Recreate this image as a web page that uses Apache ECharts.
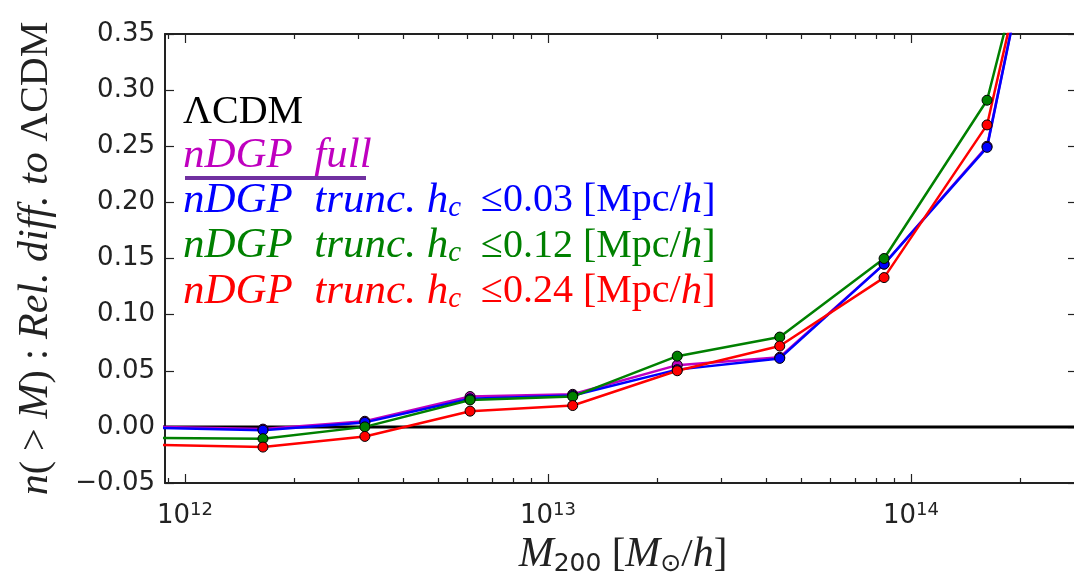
<!DOCTYPE html>
<html>
<head>
<meta charset="utf-8">
<script src="https://cdn.jsdelivr.net/npm/echarts@6/dist/echarts.min.js"></script>
<style>
html, body { margin: 0; padding: 0; background: #fff; }
#main { width: 1074px; height: 577px; }
</style>
</head>
<body>
<div id="main"></div>
<script>
// 质量 M200 [Msun/h]
var masses = [8.5e11, 1.64e12, 3.13e12, 6.1e12, 1.17e13, 2.27e13, 4.35e13, 8.43e13, 1.62e14, 3.1e14];
// 相对差 n(>M)
var lcdm = [0, 0, 0, 0, 0, 0, 0, 0, 0, 0];
var nDGPFull = [0.000, -0.002, 0.005, 0.027, 0.029, 0.055, 0.062, 0.145, 0.250, 0.69];
var nDGP003 = [-0.001, -0.003, 0.004, 0.025, 0.028, 0.051, 0.061, 0.145, 0.249, 0.69];
var nDGP012 = [-0.010, -0.0105, 0.000, 0.024, 0.027, 0.063, 0.080, 0.150, 0.291, 0.65];
var nDGP024 = [-0.016, -0.018, -0.0085, 0.014, 0.019, 0.050, 0.072, 0.133, 0.269, 0.67];
// 坐标轴
var xMin = 8.81e11, xMax = 2.94e14;
var xMajor = [1e12, 1e13, 1e14];

var serif = 'Liberation Serif';
var sans = 'DejaVu Sans';

// 次刻度 2..9 x 10^n
var xMinor = [];
for (var e = 11; e <= 14; e++) {
    for (var k = 2; k <= 9; k++) {
        var v = k * Math.pow(10, e);
        if (v > xMin && v < xMax) xMinor.push(v);
    }
}

// 图例文字 (颜色前缀)
var colors = { k: '#000000', m: '#bf00bf', b: '#0000ff', g: '#008000', r: '#ff0000' };
var rich = {};
Object.keys(colors).forEach(function (p) {
    rich[p + 'i'] = { fontFamily: serif, fontStyle: 'italic', fontSize: 43, lineHeight: 44, color: colors[p] };
    rich[p + 'u'] = { fontFamily: serif, fontSize: 40, lineHeight: 44, color: colors[p] };
    rich[p + 's'] = { fontFamily: serif, fontStyle: 'italic', fontSize: 29, lineHeight: 20, verticalAlign: 'bottom', color: colors[p] };
});
function truncLabel(p, h) {
    return '{' + p + 'i|nDGP  trunc. h}{' + p + 's|c}{' + p + 'u|  \u2264' + h + ' [Mpc/}{' + p + 'i|h}{' + p + 'u|]}';
}
var legendText = {
    'LCDM': '{ku|\u039BCDM}',
    'full': '{mi|nDGP  full}',
    't003': truncLabel('b', '0.03'),
    't012': truncLabel('g', '0.12'),
    't024': truncLabel('r', '0.24')
};

var myChart = echarts.init(document.getElementById('main'));

function lineSeries(name, data, color, withSymbol, width) {
    return {
        name: name,
        type: 'line',
        data: masses.map(function (m, i) { return [m, data[i]]; }),
        symbol: 'circle',
        symbolSize: 10,
        showSymbol: withSymbol,
        lineStyle: { color: color, width: width },
        itemStyle: { color: color, borderColor: '#000', borderWidth: 1 },
        emphasis: { disabled: true },
        clip: true,
        animation: false
    };
}

function xAxisBase(pos, ticks, len, line) {
    return {
        type: 'log',
        logBase: 10,
        position: pos,
        min: xMin,
        max: xMax,
        axisLine: { show: line, onZero: false, lineStyle: { color: '#222', width: 2 } },
        axisTick: { show: true, inside: true, length: len, customValues: ticks, lineStyle: { color: '#222', width: 1.2 } },
        axisLabel: { show: false },
        splitLine: { show: false },
        minorTick: { show: false }
    };
}

var xBottom = xAxisBase('bottom', xMajor, 9, true);
xBottom.axisLabel = {
    show: true,
    customValues: xMajor,
    margin: 18,
    formatter: function (v) {
        return '{b|10}{s|' + Math.round(Math.log10(v)) + '}';
    },
    rich: {
        b: { fontFamily: sans, fontSize: 26, lineHeight: 30, color: '#222' },
        s: { fontFamily: sans, fontSize: 18, lineHeight: 16, verticalAlign: 'top', color: '#222' }
    }
};
xBottom.name = '{i|M}{n|200}{u| [}{i|M}{o|\u2299}{u|/}{i|h}{u|]}';
xBottom.nameLocation = 'middle';
xBottom.nameGap = 50;
xBottom.nameTextStyle = {
    rich: {
        i: { fontFamily: serif, fontStyle: 'italic', fontSize: 42, lineHeight: 44, color: '#222' },
        u: { fontFamily: serif, fontSize: 41, lineHeight: 44, color: '#222' },
        n: { fontFamily: sans, fontSize: 25, lineHeight: 20, verticalAlign: 'bottom', color: '#222' },
        o: { fontFamily: sans, fontSize: 25, lineHeight: 18, verticalAlign: 'bottom', color: '#222' }
    }
};

function yAxisBase(pos, labels, len) {
    return {
        type: 'value',
        position: pos,
        min: -0.05,
        max: 0.35,
        interval: 0.05,
        axisLine: { show: true, lineStyle: { color: '#222', width: 2 } },
        axisTick: { show: true, inside: true, length: len, lineStyle: { color: '#222', width: 1.2 } },
        axisLabel: {
            show: labels,
            margin: 10,
            fontFamily: sans,
            fontSize: 26,
            color: '#222',
            formatter: function (v) {
                return v < 0 ? '\u2212' + Math.abs(v).toFixed(2) : v.toFixed(2);
            }
        },
        splitLine: { show: false }
    };
}

var yLeft = yAxisBase('left', true, 9);
yLeft.name = '{i|n}{u|( > }{i|M}{u|) : }{i|Rel. diff. to }{u|\u039BCDM}';
yLeft.nameLocation = 'middle';
yLeft.nameRotate = 90;
yLeft.nameGap = 107;
yLeft.nameTextStyle = {
    rich: {
        i: { fontFamily: serif, fontStyle: 'italic', fontSize: 42, lineHeight: 44, color: '#222' },
        u: { fontFamily: serif, fontSize: 40, lineHeight: 44, color: '#222' }
    }
};

var option = {
    backgroundColor: '#fff',
    animation: false,
    grid: { left: 165, top: 34, width: 916, height: 449, containLabel: false, outerBoundsMode: 'none' },
    legend: {
        orient: 'vertical',
        left: 178,
        top: 92,
        padding: 0,
        itemGap: 2,
        itemWidth: 0,
        icon: 'none',
        selectedMode: false,
        data: ['LCDM', 'full', 't003', 't012', 't024'],
        formatter: function (name) { return legendText[name]; },
        textStyle: { rich: rich }
    },
    xAxis: [
        xBottom,
        xAxisBase('bottom', xMinor, 5, false),
        xAxisBase('top', xMajor, 9, true),
        xAxisBase('top', xMinor, 5, false)
    ],
    yAxis: [yLeft, yAxisBase('right', false, 13)],
    graphic: [{
        // 紫色下划线
        type: 'line',
        shape: { x1: 185, y1: 178, x2: 366, y2: 178 },
        style: { stroke: '#7030a0', lineWidth: 4 }
    }],
    series: [
        lineSeries('LCDM', lcdm, '#000000', false, 3),
        lineSeries('full', nDGPFull, '#bf00bf', true, 2.5),
        lineSeries('t003', nDGP003, '#0000ff', true, 2.5),
        lineSeries('t012', nDGP012, '#008000', true, 2.5),
        lineSeries('t024', nDGP024, '#ff0000', true, 2.5)
    ]
};

myChart.setOption(option);

window.addEventListener('resize', function () {
    myChart.resize();
});
</script>
</body>
</html>
